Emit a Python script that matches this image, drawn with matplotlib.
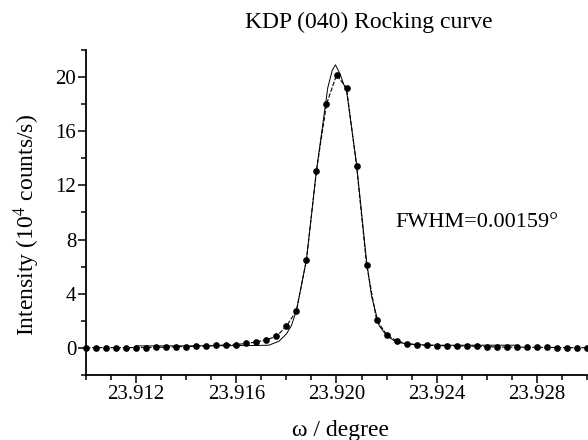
import numpy as np
import matplotlib
matplotlib.use("Agg")
import matplotlib.pyplot as plt
from matplotlib.ticker import MultipleLocator, FormatStrFormatter

plt.rcParams['font.family'] = ['Liberation Serif', 'DejaVu Serif']
plt.rcParams['mathtext.fontset'] = 'stix'

# measured scan (omega grid, 0.0004 deg step)
omega_start = 23.910
omega_step = 0.0004
intensity = [0.0, 0.02, 0.02, 0.02, 0.02, 0.03, 0.03, 0.05, 0.05, 0.1,
             0.1, 0.12, 0.15, 0.18, 0.22, 0.25, 0.33, 0.44, 0.6, 0.85,
             1.6, 2.75, 6.5, 13.1, 18.0, 20.15, 19.2, 13.45, 6.15, 2.07,
             0.98, 0.52, 0.32, 0.24, 0.19, 0.17, 0.16, 0.15, 0.14, 0.12,
             0.1, 0.07, 0.06, 0.05, 0.05, 0.04, 0.04, 0.03, 0.02, 0.02, 0.01]
omega = np.round(omega_start + omega_step * np.arange(len(intensity)), 5)

# fitted profile
fit_x = [23.9120, 23.9140, 23.9160, 23.9168, 23.9173, 23.9177, 23.9180, 23.9182,
         23.9184, 23.9188, 23.9192, 23.91965, 23.91983, 23.91996, 23.92015, 23.92028,
         23.9204, 23.9208, 23.9212, 23.9214, 23.9217, 23.9220, 23.9224, 23.9228,
         23.9232, 23.9240, 23.9260, 23.9272]
fit_y = [0.15, 0.15, 0.17, 0.18, 0.2, 0.49, 1.03, 1.65,
         2.75, 6.5, 13.1, 19.2, 20.5, 20.9, 20.2, 19.5,
         19.0, 13.6, 6.4, 3.8, 1.65, 0.9, 0.42, 0.3,
         0.24, 0.2, 0.2, 0.2]

fig = plt.figure(figsize=(5.88, 4.40), dpi=100)
ax = fig.add_axes([86 / 588, 1 - 375 / 440, 501 / 588, 325 / 440])

ax.plot(fit_x, fit_y, color='black', lw=0.7)
ax.plot(omega, intensity, color='black', lw=0.8, dashes=(4, 1.5),
        marker='o', markersize=3.8, clip_on=False)

ax.set_xlim(23.910, 23.930)
ax.set_ylim(-2, 22)
ax.xaxis.set_major_locator(MultipleLocator(0.004))
ax.xaxis.set_minor_locator(MultipleLocator(0.001))
ax.xaxis.set_major_formatter(FormatStrFormatter('%.3f'))
ax.yaxis.set_major_locator(MultipleLocator(4))
ax.yaxis.set_minor_locator(MultipleLocator(2))

for s in ['top', 'right']:
    ax.spines[s].set_visible(False)
for s in ['left', 'bottom']:
    ax.spines[s].set_linewidth(1.3)
ax.tick_params(which='major', direction='out', length=6, width=1.1, labelsize=15, pad=1)
ax.tick_params(which='minor', direction='out', length=3.5, width=1.1)

# axis titles placed as in the original
fig.text(341 / 588, 1 - 430 / 440, 'ω / degree', fontsize=17, ha='center', va='center')
fig.text(27 / 588, 1 - 225 / 440, 'Intensity (10$^4$ counts/s)', fontsize=17,
         ha='center', va='center', rotation=90)
fig.text(369 / 588, 1 - 22 / 440, 'KDP (040) Rocking curve', fontsize=17,
         ha='center', va='center')
fig.text(395 / 588, 1 - 222 / 440, 'FWHM=0.00159°', fontsize=16, ha='left', va='center')

fig.savefig('out.png', dpi=100)
